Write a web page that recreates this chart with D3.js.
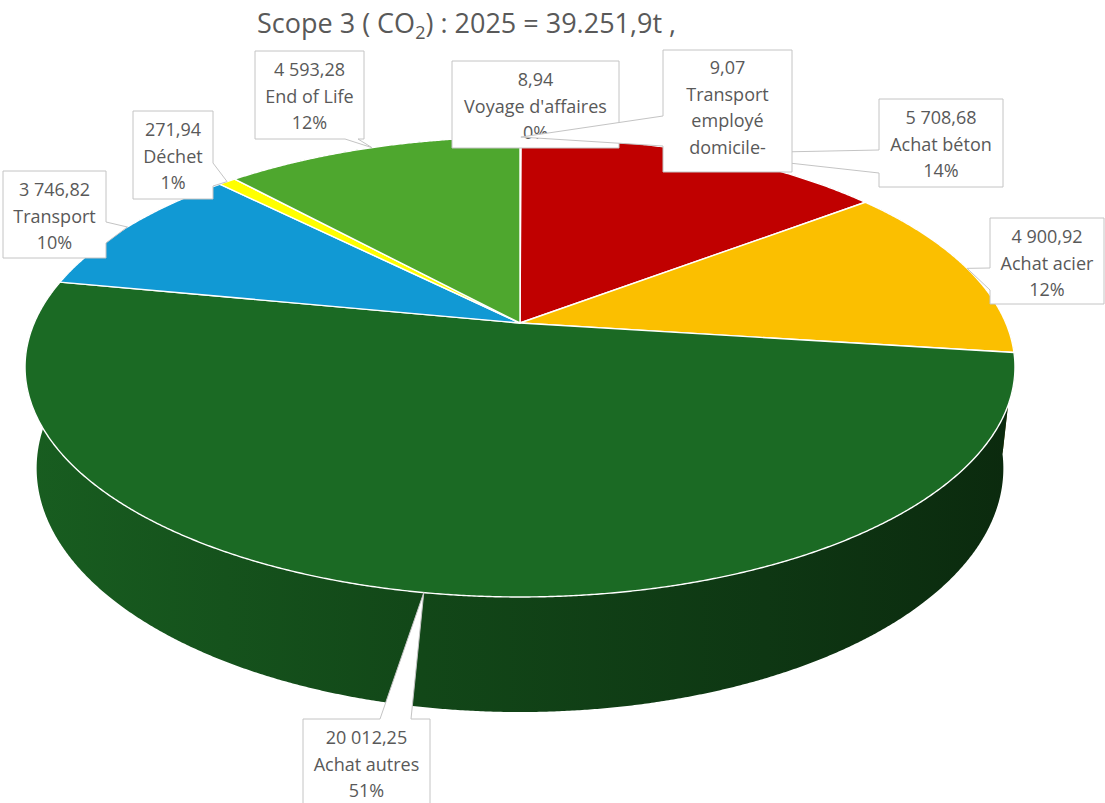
<!DOCTYPE html>
<html><head><meta charset="utf-8">
<script src="https://cdn.jsdelivr.net/npm/d3@7"></script>
<style>body{margin:0;background:#fff}svg{display:block}</style>
</head><body>
<svg id="chart" width="1105" height="803"></svg>
<script>
// ---- data ----
const categories = ["Voyage d'affaires", "Transport employé domicile-", "Achat béton", "Achat acier", "Achat autres", "Transport", "Déchet", "End of Life"];
const values = [8.94, 9.07, 5708.68, 4900.92, 20012.25, 3746.82, 271.94, 4593.28];
const valueLabels = ["8,94", "9,07", "5 708,68", "4 900,92", "20 012,25", "3 746,82", "271,94", "4 593,28"];
const percentLabels = ["0%", "0%", "14%", "12%", "51%", "10%", "1%", "12%"];
const titleParts = ["Scope 3 ( CO", "2", ") : 2025 = 39.251,9t ,"];

// ---- styles / layout ----
const colors = ["#5B9BD5", "#7F7F7F", "#C00000", "#FBBF00", "#1B6A24", "#1199D4", "#FFFF00", "#4EA72E"];
const labelLines = [
  [0, "Voyage d'affaires", 2],
  [0, "Transport", "employé", "domicile-"],
  [0, "Achat béton", 2],
  [0, "Achat acier", 2],
  [0, "Achat autres", 2],
  [0, "Transport", 2],
  [0, "Déchet", 2],
  [0, "End of Life", 2]
];
const boxes = [
  {x:452, y:61, w:167, h:87, side:null},
  {x:663, y:50, w:129, h:122, side:"left", b0:116, b1:146},
  {x:879, y:99, w:124, h:88, side:"left", b0:150, b1:173},
  {x:990, y:218, w:114, h:86, side:"left", b0:268, b1:290},
  {x:303, y:719, w:127, h:100, side:"top", b0:380, b1:411},
  {x:3, y:171, w:103, h:87, side:"right", b0:222, b1:243},
  {x:133, y:111, w:80, h:88, side:"right", b0:163, b1:186},
  {x:255, y:51, w:109, h:88, side:"bottom", b0:345, b1:358}
];
const drawOrder = [2, 3, 4, 5, 6, 7, 0, 1];

const cam = {cx:520, cy:323, k:2259, D:4.65, tilt:27.13*Math.PI/180, thick:0.236};
const sT = Math.sin(cam.tilt), cT = Math.cos(cam.tilt);
function proj(a, y){
  const X = Math.sin(a), Z = Math.cos(a);
  const depth = cam.D - y*sT + Z*cT;
  const up = y*cT + Z*sT;
  return [cam.cx + cam.k*X/depth, cam.cy - cam.k*up/depth];
}

const svg = d3.select("#chart");
const defs = svg.append("defs");
const pie = d3.pie().sort(null).value(d => d);
const arcs = pie(values);
const line = d3.line();
const step = Math.PI/720;

function arcPts(a0, a1, y){
  const n = Math.max(2, Math.ceil((a1-a0)/step));
  return d3.range(n+1).map(i => proj(a0 + (a1-a0)*i/n, y));
}

// ---- side gradients ----
const shadeStops = [[0, 0.12], [0.4, 0.33], [0.75, 0.48], [1, 0.6]];
colors.forEach((c, i) => {
  const g = defs.append("linearGradient").attr("id", "side" + i)
    .attr("gradientUnits", "userSpaceOnUse")
    .attr("x1", 30).attr("y1", 0).attr("x2", 1010).attr("y2", 0);
  shadeStops.forEach(([o, t]) => {
    g.append("stop").attr("offset", o).attr("stop-color", d3.interpolateRgb(c, "#000")(t));
  });
});

// ---- sides ----
const gSide = svg.append("g");
arcs.forEach((d, i) => {
  const top = arcPts(d.startAngle, d.endAngle, 0);
  const bot = arcPts(d.startAngle, d.endAngle, -cam.thick).reverse();
  gSide.append("path").attr("d", line(top.concat(bot)) + "Z")
    .attr("fill", `url(#side${i})`);
});

// ---- tops ----
const gTop = svg.append("g");
arcs.forEach((d, i) => {
  const pts = [[cam.cx, cam.cy]].concat(arcPts(d.startAngle, d.endAngle, 0));
  gTop.append("path").attr("d", line(pts) + "Z")
    .attr("fill", colors[i]).attr("stroke", "#ffffff").attr("stroke-width", 1.4)
    .attr("stroke-linejoin", "round");
});

// ---- callouts ----
const gLab = svg.append("g").attr("font-family", "'Open Sans', sans-serif").attr("font-size", 18).attr("fill", "#595959");
drawOrder.forEach(i => {
  const d = arcs[i];
  const apex = proj((d.startAngle + d.endAngle)/2, 0);
  const b = boxes[i];
  const x0 = b.x, y0 = b.y, x1 = b.x + b.w, y1 = b.y + b.h;
  let pts;
  if (b.side === "left") pts = [[x0,y0],[x1,y0],[x1,y1],[x0,y1],[x0,b.b1],apex,[x0,b.b0]];
  else if (b.side === "right") pts = [[x0,y0],[x1,y0],[x1,b.b0],apex,[x1,b.b1],[x1,y1],[x0,y1]];
  else if (b.side === "top") pts = [[x0,y0],[b.b0,y0],apex,[b.b1,y0],[x1,y0],[x1,y1],[x0,y1]];
  else if (b.side === "bottom") pts = [[x0,y0],[x1,y0],[x1,y1],[b.b1,y1],apex,[b.b0,y1],[x0,y1]];
  else pts = [[x0,y0],[x1,y0],[x1,y1],[x0,y1]];
  gLab.append("path").attr("d", line(pts) + "Z")
    .attr("fill", "#fff").attr("stroke", "#c4c4c4").attr("stroke-width", 1)
    .attr("stroke-linejoin", "miter");
  const lines = labelLines[i].map(t => t === 0 ? valueLabels[i] : (t === 2 ? percentLabels[i] : t));
  const top0 = lines.length === 4 ? 18 : 19;
  lines.forEach((t, k) => {
    gLab.append("text").attr("x", b.x + b.w/2).attr("y", b.y + top0 + k*26.5)
      .attr("dy", "0.36em").attr("text-anchor", "middle").text(t);
  });
});

// ---- title ----
const title = svg.append("text").attr("x", 257).attr("y", 33)
  .attr("font-family", "'Open Sans', sans-serif").attr("font-size", 27).attr("fill", "#595959");
title.append("tspan").text(titleParts[0]);
title.append("tspan").attr("font-size", 18).attr("dy", 6).text(titleParts[1]);
title.append("tspan").attr("dy", -6).text(titleParts[2]);
</script>
</body></html>
